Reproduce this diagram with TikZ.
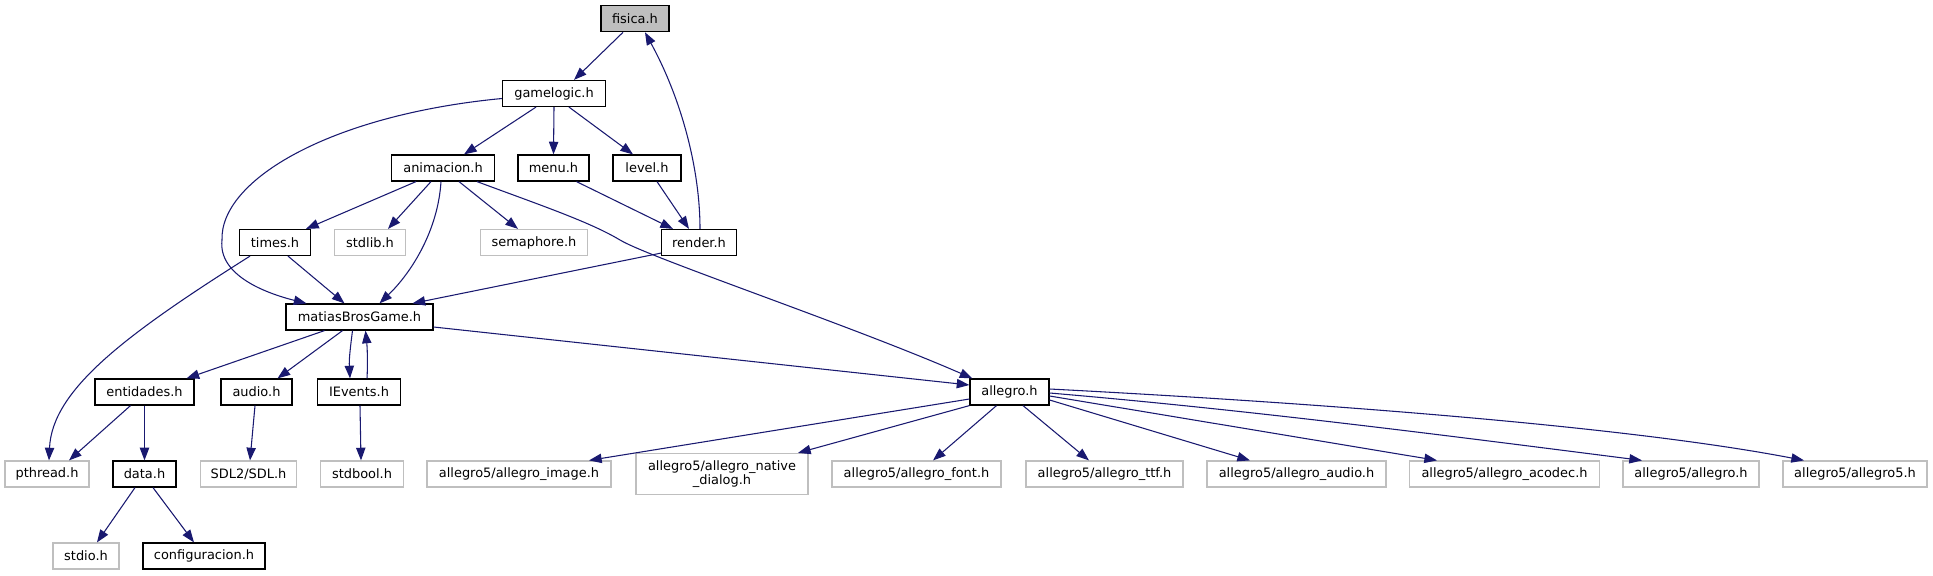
\documentclass[tikz,border=0pt]{standalone}
\usepackage{fontspec}
\setmainfont{DejaVu Sans}
\usetikzlibrary{arrows.meta,calc}
\definecolor{edgec}{HTML}{191970}
\definecolor{extc}{HTML}{BFBFBF}
\begin{document}
\begin{tikzpicture}[x=0.75pt,y=-0.75pt,
 box/.style={draw=black,line width=0.9pt,fill=white,minimum height=19.5pt,inner sep=0pt,font=\fontsize{9.7}{10.8}\selectfont,align=center},
 ext/.style={box,draw=extc},
 wd/.style={minimum width=#1*0.75pt},
 edge/.style={draw=edgec,line width=0.8pt,-{Triangle[length=9.5pt,width=7pt]}}]
\useasboundingbox (0,0) rectangle (1933,575);
% row 1
\node[box,wd=68,fill=extc] (fisica) at (635,18.7) {fisica.h};
% row 2
\node[box,wd=103] (gamelogic) at (554,93.5) {gamelogic.h};
% row 3
\node[box,wd=103] (animacion) at (443,168) {animacion.h};
\node[box,wd=71] (menu) at (553.5,168) {menu.h};
\node[box,wd=68] (level) at (647,168) {level.h};
% row 4
\node[box,wd=71] (times) at (275,242.5) {times.h};
\node[ext,wd=71] (stdlib) at (370,242.5) {stdlib.h};
\node[ext,wd=107] (semaphore) at (534,242.5) {semaphore.h};
\node[box,wd=75] (render) at (699,242.5) {render.h};
% row 5
\node[box,wd=147] (mbg) at (359.5,317) {matiasBrosGame.h};
% row 6
\node[box,wd=99] (entidades) at (144.5,392) {entidades.h};
\node[box,wd=71] (audio) at (256.5,392) {audio.h};
\node[box,wd=83] (ievents) at (359,392) {IEvents.h};
\node[box,wd=79] (allegro) at (1009.5,392) {allegro.h};
% row 7
\node[ext,wd=84] (pthread) at (47,474) {pthread.h};
\node[box,wd=63] (data) at (144.5,474) {data.h};
\node[ext,wd=96] (sdl) at (248.5,474) {SDL2/SDL.h};
\node[ext,wd=83] (stdbool) at (362,474) {stdbool.h};
\node[ext,wd=184] (aimage) at (519,474) {allegro5/allegro\_image.h};
\node[ext,wd=172,minimum height=30.75pt] (anative) at (722,474) {allegro5/allegro\_native\\\_dialog.h};
\node[ext,wd=169] (afont) at (916.5,474) {allegro5/allegro\_font.h};
\node[ext,wd=157] (attf) at (1104.5,474) {allegro5/allegro\_ttf.h};
\node[ext,wd=179] (aaudio) at (1296.5,474) {allegro5/allegro\_audio.h};
\node[ext,wd=190] (aacodec) at (1504.5,474) {allegro5/allegro\_acodec.h};
\node[ext,wd=136] (aallegro) at (1691,474) {allegro5/allegro.h};
\node[ext,wd=144] (aallegro5) at (1855,474) {allegro5/allegro5.h};
% row 8
\node[ext,wd=66] (stdio) at (86,556) {stdio.h};
\node[box,wd=122] (config) at (204,556) {configuracion.h};
% edges
\draw[edge] ($(fisica.south)+(-12,0)$) -- ($(gamelogic.north)+(20,0)$);
\draw[edge] ($(render.north)+(1,0)$) .. controls (700,170) and (682,100) .. ($(fisica.south)+(10,0)$);
\draw[edge] ($(gamelogic.south)+(-18,0)$) -- ($(animacion.north)+(21,0)$);
\draw[edge] (gamelogic.south) -- (menu.north);
\draw[edge] ($(gamelogic.south)+(15,0)$) -- ($(level.north)+(-14,0)$);
\draw[edge] ($(gamelogic.west)+(0,5)$) .. controls (330,115) and (220,180) .. (222,240) .. controls (218,275) and (265,293) .. ($(mbg.north)+(-53,0)$);
\draw[edge] ($(animacion.south)+(-27,0)$) -- ($(times.north)+(31,0)$);
\draw[edge] ($(animacion.south)+(-12,0)$) -- ($(stdlib.north)+(18,0)$);
\draw[edge] ($(animacion.south)+(-2,0)$) .. controls (438,230) and (412,272) .. ($(mbg.north)+(20,0)$);
\draw[edge] ($(animacion.south)+(16,0)$) -- ($(semaphore.north)+(-16,0)$);
\draw[edge] ($(animacion.south)+(34,0)$) .. controls (540,205) and (590,222) .. (620,240) .. controls (650,258) and (850,325) .. ($(allegro.north west)+(3,0)$);
\draw[edge] ($(menu.south)+(23,0)$) -- ($(render.north)+(-26,0)$);
\draw[edge] ($(level.south)+(10,0)$) -- ($(render.north)+(-10,0)$);
\draw[edge] ($(render.south west)+(0,-3)$) -- ($(mbg.north)+(53,0)$);
\draw[edge] ($(times.south)+(13,0)$) -- ($(mbg.north)+(-15,0)$);
\draw[edge] ($(times.south)+(-25,0)$) .. controls (125,335) and (52,390) .. ($(pthread.north)+(2,0)$);
\draw[edge] ($(mbg.south)+(-35,0)$) -- ($(entidades.north)+(42,0)$);
\draw[edge] ($(mbg.south)+(-17,0)$) -- ($(audio.north)+(21,0)$);
\draw[edge] ($(mbg.south)+(-7,0)$) .. controls (350,350) and (349,360) .. ($(ievents.north)+(-9,0)$);
\draw[edge] ($(ievents.north)+(8,0)$) .. controls (368,360) and (367,345) .. ($(mbg.south)+(6,0)$);
\draw[edge] ($(mbg.east)+(0,10)$) -- ($(allegro.west)+(0,-7)$);
\draw[edge] ($(entidades.south)+(-14,0)$) -- ($(pthread.north)+(22,0)$);
\draw[edge] (entidades.south) -- (data.north);
\draw[edge] ($(audio.south)+(-1.5,0)$) -- ($(sdl.north)+(1.5,0)$);
\draw[edge] ($(ievents.south)+(1,0)$) -- ($(stdbool.north)+(-1,0)$);
\draw[edge] ($(data.south)+(-9.5,0)$) -- ($(stdio.north)+(11,0)$);
\draw[edge] ($(data.south)+(8.5,0)$) -- ($(config.north)+(-10,0)$);
\draw[edge] ($(allegro.west)+(0,7)$) -- ($(aimage.north)+(70,0)$);
\draw[edge] (allegro.south west) -- ($(anative.north)+(76,0)$);
\draw[edge] ($(allegro.south)+(-13,0)$) -- ($(afont.north)+(16.5,0)$);
\draw[edge] ($(allegro.south)+(13.5,0)$) -- ($(attf.north)+(-15.5,0)$);
\draw[edge] ($(allegro.east)+(0,8)$) -- ($(aaudio.north)+(-46.5,0)$);
\draw[edge] ($(allegro.east)+(0,4)$) -- ($(aacodec.north)+(-67.5,0)$);
\draw[edge] ($(allegro.east)+(0,1)$) .. controls (1250,410) and (1450,436) .. ($(aallegro.north)+(-49,0)$);
\draw[edge] ($(allegro.east)+(0,-3)$) .. controls (1300,402) and (1620,425) .. ($(aallegro5.north)+(-51,0)$);
\end{tikzpicture}
\end{document}
